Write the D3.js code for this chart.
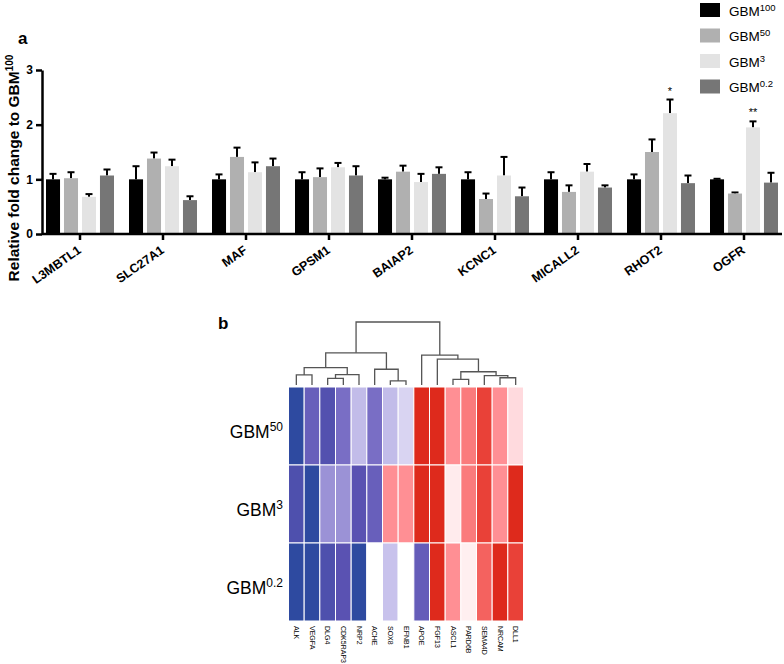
<!DOCTYPE html>
<html>
<head>
<meta charset="utf-8">
<script src="https://cdn.jsdelivr.net/npm/d3@7"></script>
<style>
  body { margin: 0; background: #fff; }
  svg { font-family: "Liberation Sans", Arial, sans-serif; }
</style>
</head>
<body>
<div id="fig"></div>
<script>
// ---- panel a data ----
const genes = ["L3MBTL1", "SLC27A1", "MAF", "GPSM1", "BAIAP2", "KCNC1", "MICALL2", "RHOT2", "OGFR"];
const groups = ["100", "50", "3", "0.2"];
const groupColors = ["#000000", "#b0b0b0", "#e3e3e3", "#767676"];

const gbm100 = [1, 1, 1, 1, 1, 1, 1, 1, 1];
const gbm100Err = [0.10, 0.24, 0.09, 0.13, 0.03, 0.13, 0.13, 0.09, 0.01];
const gbm50 = [1.02, 1.38, 1.41, 1.04, 1.14, 0.64, 0.77, 1.50, 0.74];
const gbm50Err = [0.11, 0.11, 0.17, 0.16, 0.11, 0.10, 0.12, 0.23, 0.02];
const gbm3 = [0.68, 1.24, 1.13, 1.22, 0.95, 1.07, 1.14, 2.21, 1.95];
const gbm3Err = [0.05, 0.12, 0.18, 0.08, 0.15, 0.34, 0.14, 0.25, 0.11];
const gbm02 = [1.07, 0.62, 1.24, 1.07, 1.10, 0.69, 0.85, 0.93, 0.94];
const gbm02Err = [0.11, 0.07, 0.14, 0.17, 0.12, 0.16, 0.04, 0.14, 0.18];

const yTicks = [0, 1, 2, 3];
const stars = [
    {gene: "RHOT2", group: "3", label: "*"},
    {gene: "OGFR", group: "3", label: "**"}
];

// ---- panel b data ----
const hmGenes = ["ALK", "VEGFA", "DLG4", "CDK5RAP3", "NRP2", "ACHE", "SOX8", "EFNB1",
                 "APOE", "FGF13", "ASCL1", "PARD6B", "SEMA4D", "NRCAM", "DLL1"];
const hmRows = ["50", "3", "0.2"];
const hm50 = [-1, -0.6, -0.75, -0.48, -0.22, -0.48, -0.22, -0.14, 1, 1, 0.5, 0.58, 0.85, 0.5, 0.18];
const hm3 = [-0.78, -1, -0.35, -0.35, -0.7, -0.6, 0.5, 0.5, 1, 1, 0.1, 0.58, 0.85, 0.5, 1];
const hm02 = [-1, -1, -0.78, -0.7, -1, 0, -0.2, 0, -0.62, 1, 0.5, 0.08, 0.68, 1, 0.85];

// hclust style merges: [left, right, height]; strings are leaves, numbers earlier merges
const merges = [
    ["ALK", "VEGFA", 1.6],
    ["DLG4", "CDK5RAP3", 1.05],
    [1, "NRP2", 1.65],
    [0, 2, 2.75],
    ["SOX8", "EFNB1", 0.65],
    ["ACHE", 4, 2.5],
    [3, 5, 5.1],
    ["ASCL1", "PARD6B", 0.9],
    ["NRCAM", "DLL1", 1.15],
    ["SEMA4D", 8, 1.5],
    [7, 9, 2.1],
    ["FGF13", 10, 4.1],
    ["APOE", 11, 4.75],
    [6, 12, 10]
];

const W = 784, H = 664;
const svg = d3.select("#fig").append("svg").attr("width", W).attr("height", H);

// ================= panel a =================
const means = [gbm100, gbm50, gbm3, gbm02];
const errs = [gbm100Err, gbm50Err, gbm3Err, gbm02Err];

const x0 = d3.scaleBand().domain(genes).range([38.5, 785.5]);
const x1 = d3.scaleBand().domain(groups).range([7.5, 75.5]).paddingInner(0.22);
const y = d3.scaleLinear().domain([0, 3]).range([234, 70]);

const barData = [];
genes.forEach((g, i) => {
    groups.forEach((grp, j) => {
        barData.push({gene: g, group: grp, v: means[j][i], e: errs[j][i], color: groupColors[j]});
    });
});

const gA = svg.append("g");

// error bars (drawn under the bars so only the upper half shows)
const eb = gA.selectAll(".err").data(barData).enter().append("g").attr("class", "err");
eb.append("line")
    .attr("x1", d => x0(d.gene) + x1(d.group) + x1.bandwidth() / 2)
    .attr("x2", d => x0(d.gene) + x1(d.group) + x1.bandwidth() / 2)
    .attr("y1", d => y(d.v))
    .attr("y2", d => y(d.v + d.e))
    .attr("stroke", "#000").attr("stroke-width", 2);
eb.append("line")
    .attr("x1", d => x0(d.gene) + x1(d.group) + x1.bandwidth() / 2 - 3.5)
    .attr("x2", d => x0(d.gene) + x1(d.group) + x1.bandwidth() / 2 + 3.5)
    .attr("y1", d => y(d.v + d.e))
    .attr("y2", d => y(d.v + d.e))
    .attr("stroke", "#000").attr("stroke-width", 2);

gA.selectAll(".bar").data(barData).enter().append("rect")
    .attr("class", "bar")
    .attr("x", d => x0(d.gene) + x1(d.group))
    .attr("width", x1.bandwidth())
    .attr("y", d => y(d.v))
    .attr("height", d => y(0) - y(d.v))
    .attr("fill", d => d.color);

// significance stars
gA.selectAll(".star").data(stars).enter().append("text")
    .attr("x", d => x0(d.gene) + x1(d.group) + x1.bandwidth() / 2)
    .attr("y", d => {
        const i = genes.indexOf(d.gene), j = groups.indexOf(d.group);
        return y(means[j][i] + errs[j][i]) - 5;
    })
    .attr("text-anchor", "middle")
    .attr("fill", "#000")
    .style("font-size", "11px")
    .text(d => d.label);

// y axis
const yAxis = gA.append("g")
    .attr("transform", "translate(42,0)")
    .call(d3.axisLeft(y).tickValues(yTicks).tickSize(6).tickSizeOuter(0).tickFormat(d3.format("d")));
yAxis.select(".domain").attr("stroke-width", 2.5);
yAxis.selectAll(".tick line").attr("stroke-width", 2.5);
yAxis.selectAll(".tick text").style("font-size", "12px").style("font-weight", "bold").attr("x", -9);

// x axis
const xAxis = gA.append("g")
    .attr("transform", "translate(0,234)")
    .call(d3.axisBottom(x0).tickSize(6).tickSizeOuter(0));
xAxis.select(".domain").attr("d", "M42,0H782").attr("stroke-width", 2.5);
xAxis.selectAll(".tick line").attr("stroke-width", 2.5);
xAxis.selectAll(".tick text")
    .style("font-size", "12.5px").style("font-weight", "bold")
    .attr("text-anchor", "end")
    .attr("dy", null)
    .attr("transform", "translate(2,18) rotate(-35)")
    .attr("x", 0).attr("y", 0);

// y label
const yl = gA.append("text")
    .attr("transform", "translate(19,168) rotate(-90)")
    .attr("text-anchor", "middle")
    .style("font-size", "15.5px").style("font-weight", "bold");
yl.append("tspan").text("Relative fold change to GBM");
yl.append("tspan").attr("dy", -6).style("font-size", "10px").text("100");

gA.append("text").attr("x", 18).attr("y", 44)
    .style("font-size", "17px").style("font-weight", "bold").text("a");

// legend
const leg = gA.selectAll(".leg").data(groups).enter().append("g")
    .attr("transform", (d, i) => `translate(700,${3 + i * 25.5})`);
leg.append("rect").attr("width", 20).attr("height", 14)
    .attr("fill", (d, i) => groupColors[i]);
const lt = leg.append("text").attr("x", 29).attr("y", 12.5).style("font-size", "13.5px");
lt.append("tspan").text("GBM");
lt.append("tspan").attr("dy", -5).style("font-size", "9.5px").text(d => d);

// ================= panel b =================
const gB = svg.append("g");
gB.append("text").attr("x", 218).attr("y", 329)
    .style("font-size", "17px").style("font-weight", "bold").text("b");

const hx = d3.scaleBand().domain(hmGenes).range([288.5, 523.5]);
const hy = d3.scaleBand().domain(hmRows).range([387, 621]);
const color = d3.scaleLinear()
    .domain([-1, -0.7, -0.45, -0.2, 0, 0.2, 0.5, 0.75, 1])
    .range(["#2e4aa0", "#5a52b2", "#7d72c8", "#c8c2ec", "#ffffff", "#ffd6da", "#ff8f94", "#f0504a", "#de2a1c"]);

const hmValues = [hm50, hm3, hm02];
const cells = [];
hmRows.forEach((r, i) => hmGenes.forEach((g, j) => cells.push({row: r, gene: g, v: hmValues[i][j]})));

gB.selectAll(".cell").data(cells).enter().append("rect")
    .attr("x", d => hx(d.gene))
    .attr("y", d => hy(d.row))
    .attr("width", hx.bandwidth())
    .attr("height", hy.bandwidth())
    .attr("fill", d => color(d.v))
    .attr("stroke", "#fff").attr("stroke-width", 1);

// row labels
const rl = gB.selectAll(".rowlab").data(hmRows).enter().append("text")
    .attr("x", 283)
    .attr("y", d => hy(d) + hy.bandwidth() / 2 + 12)
    .attr("text-anchor", "end")
    .style("font-size", "17.5px");
rl.append("tspan").text("GBM");
rl.append("tspan").attr("dy", -7).style("font-size", "12px").text(d => d);

// column labels
gB.selectAll(".collab").data(hmGenes).enter().append("text")
    .attr("transform", d => `translate(${hx(d) + hx.bandwidth() / 2},626) rotate(90)`)
    .attr("dy", "0.35em")
    .style("font-size", "7px")
    .text(d => d);

// dendrogram
const hScale = d3.scaleLinear().domain([0, 10]).range([385, 322]);
const nodes = [];
function nodeOf(k) {
    if (typeof k === "string") return {x: hx(k) + hx.bandwidth() / 2, h: 0};
    return nodes[k];
}
const dPaths = [];
merges.forEach(m => {
    const a = nodeOf(m[0]), b = nodeOf(m[1]);
    dPaths.push(`M${a.x},${hScale(a.h)}V${hScale(m[2])}H${b.x}V${hScale(b.h)}`);
    nodes.push({x: (a.x + b.x) / 2, h: m[2]});
});
gB.selectAll(".dend").data(dPaths).enter().append("path")
    .attr("d", d => d)
    .attr("fill", "none")
    .attr("stroke", "#555").attr("stroke-width", 1.3);
</script>
</body>
</html>
